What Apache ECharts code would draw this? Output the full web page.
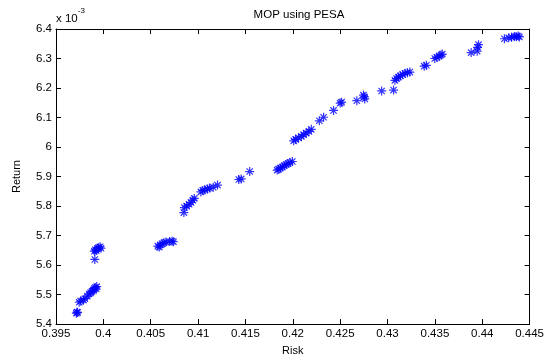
<!DOCTYPE html>
<html>
<head>
<meta charset="utf-8">
<script src="https://cdn.jsdelivr.net/npm/echarts@6/dist/echarts.min.js"></script>
<style>
  html, body { margin: 0; padding: 0; background: #fff; }
  #chart { width: 547px; height: 361px; }
</style>
</head>
<body>
<div id="chart"></div>
<script>
// Pareto front points (return is in units of 1e-3)
var risk = [
  0.39715, 0.39722, 0.39728,
  0.39745, 0.39760, 0.39790, 0.39805, 0.39830, 0.39850, 0.39865, 0.39880, 0.39895, 0.39905, 0.39915, 0.39925, 0.39930,
  0.39910,
  0.39905, 0.39915, 0.39925, 0.39935, 0.39950, 0.39965, 0.39975,
  0.40575, 0.40590, 0.40600, 0.40620, 0.40640, 0.40660, 0.40700, 0.40725, 0.40740,
  0.40850, 0.40855, 0.40880, 0.40905, 0.40925, 0.40945, 0.40960,
  0.41030, 0.41050, 0.41070, 0.41100, 0.41120, 0.41160, 0.41205,
  0.41430, 0.41455, 0.41545,
  0.41835, 0.41850, 0.41870, 0.41890, 0.41910, 0.41930, 0.41950, 0.41970, 0.41995,
  0.42010, 0.42030, 0.42060, 0.42090, 0.42115, 0.42140, 0.42170, 0.42195,
  0.42280, 0.42325, 0.42430,
  0.42500, 0.42515,
  0.42676, 0.42746, 0.42760, 0.42755,
  0.42938, 0.43064,
  0.43078, 0.43095, 0.43115, 0.43135, 0.43160, 0.43185, 0.43210, 0.43236,
  0.43387, 0.43410,
  0.43499, 0.43520, 0.43545, 0.43565, 0.43578,
  0.43883, 0.43946, 0.43950, 0.43961,
  0.44234, 0.44280, 0.44310, 0.44339, 0.44360, 0.44380, 0.44392
];
var ret = [
  5.437, 5.441, 5.439,
  5.474, 5.478, 5.482, 5.486, 5.495, 5.502, 5.506, 5.511, 5.515, 5.520, 5.524, 5.519, 5.527,
  5.619,
  5.647, 5.652, 5.649, 5.656, 5.659, 5.662, 5.657,
  5.664, 5.661, 5.668, 5.672, 5.676, 5.678, 5.680, 5.681, 5.679,
  5.778, 5.795, 5.800, 5.806, 5.812, 5.820, 5.826,
  5.848, 5.853, 5.855, 5.858, 5.861, 5.864, 5.871,
  5.890, 5.892, 5.917,
  5.922, 5.925, 5.929, 5.932, 5.937, 5.941, 5.944, 5.948, 5.951,
  6.021, 6.026, 6.031, 6.036, 6.042, 6.047, 6.053, 6.060,
  6.089, 6.101, 6.124,
  6.149, 6.152,
  6.157, 6.176, 6.163, 6.170,
  6.190, 6.193,
  6.226, 6.232, 6.237, 6.241, 6.246, 6.250, 6.252, 6.254,
  6.274, 6.277,
  6.300, 6.304, 6.308, 6.312, 6.315,
  6.320, 6.325, 6.338, 6.347,
  6.367, 6.370, 6.372, 6.375, 6.374, 6.376, 6.373
];

var xTicks = [0.395, 0.4, 0.405, 0.41, 0.415, 0.42, 0.425, 0.43, 0.435, 0.44, 0.445];
var yTicks = [5.4, 5.5, 5.6, 5.7, 5.8, 5.9, 6, 6.1, 6.2, 6.3, 6.4];

var points = risk.map(function (r, i) { return [r, ret[i]]; });

var font = 'Liberation Sans, Arial, sans-serif';
var star = 'path://M0,-1L0,1M-1,0L1,0M-0.7,-0.7L0.7,0.7M-0.7,0.7L0.7,-0.7';

function fmt(v) { return String(parseFloat(v.toFixed(3))); }

function axisBase(isX, pos, showLabel) {
  var ticks = isX ? xTicks : yTicks;
  return {
    type: 'value',
    position: pos,
    min: ticks[0],
    max: ticks[ticks.length - 1],
    interval: isX ? 0.005 : 0.1,
    axisLine: {show: true, onZero: false, lineStyle: {color: '#000', width: 1}},
    axisTick: {show: true, inside: true, length: 5, lineStyle: {color: '#000'}},
    splitLine: {show: false},
    axisLabel: {
      show: showLabel,
      color: '#000',
      fontFamily: font,
      fontSize: 11.5,
      margin: 4,
      showMinLabel: true,
      showMaxLabel: true,
      formatter: fmt
    }
  };
}

var chart = echarts.init(document.getElementById('chart'));

var xMain = axisBase(true, 'bottom', true);
xMain.name = 'Risk';
xMain.nameLocation = 'middle';
xMain.nameGap = 18;
xMain.nameTextStyle = {color: '#000', fontFamily: font, fontSize: 11};

var yMain = axisBase(false, 'left', true);
yMain.name = 'Return';
yMain.nameLocation = 'middle';
yMain.nameGap = 34;
yMain.nameTextStyle = {color: '#000', fontFamily: font, fontSize: 11};

chart.setOption({
  animation: false,
  backgroundColor: '#fff',
  title: {
    text: 'MOP using PESA',
    left: 294,
    textAlign: 'center',
    top: 4,
    textStyle: {color: '#000', fontFamily: font, fontSize: 11.5, fontWeight: 'normal'}
  },
  grid: {left: 56, right: 15, top: 29, bottom: 29, containLabel: false},
  xAxis: [xMain, axisBase(true, 'top', false)],
  yAxis: [yMain, axisBase(false, 'right', false)],
  graphic: [{
    type: 'text',
    left: 56,
    top: 7,
    style: {
      text: '{b|x 10}{e|-3}',
      rich: {
        b: {fontFamily: font, fontSize: 11.5, fill: '#000', verticalAlign: 'bottom', padding: [6, 0, 0, 0]},
        e: {fontFamily: font, fontSize: 8, fill: '#000', verticalAlign: 'top'}
      }
    }
  }],
  series: [{
    type: 'scatter',
    xAxisIndex: 0,
    yAxisIndex: 0,
    data: points,
    symbol: star,
    symbolSize: 9,
    itemStyle: {color: 'none', borderColor: '#0000ff', borderWidth: 1.2}
  }]
});
</script>
</body>
</html>
